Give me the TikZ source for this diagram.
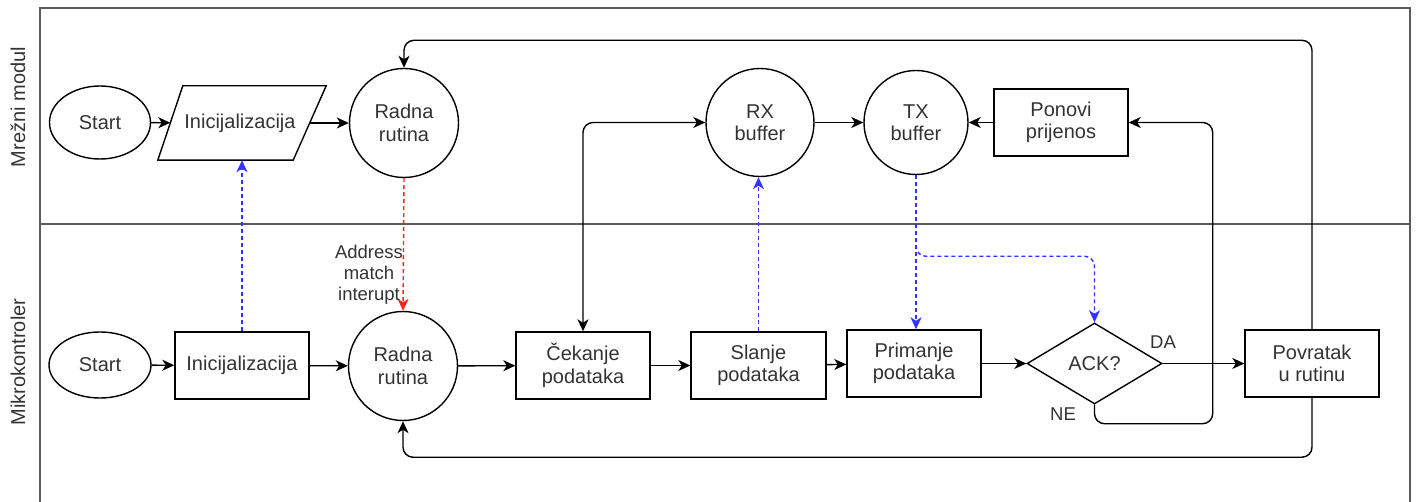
\documentclass[tikz,border=0pt]{standalone}
\usepackage{fontspec}
\setmainfont{Liberation Sans}
\usetikzlibrary{arrows.meta,shapes.geometric,calc}
\definecolor{txt}{HTML}{333333}
\definecolor{lanec}{HTML}{5A5A5A}
\definecolor{blu}{HTML}{3333FF}
\definecolor{rd}{HTML}{FF2020}
\begin{document}
\begin{tikzpicture}[x=1pt,y=-1pt,
  every node/.style={font=\fontsize{20}{22.5}\selectfont, text=txt, align=center},
  shp/.style={draw=black, line width=1.4pt, inner sep=0pt},
  box/.style={shp, rectangle, minimum width=134, minimum height=67},
  circ/.style={shp, circle, minimum size=109},
  arr/.style={-{Stealth[length=12pt,width=11pt,inset=3.5pt]}, line width=1.4pt, draw=black},
  darr/.style={{Stealth[length=12pt,width=11pt,inset=3.5pt]}-{Stealth[length=12pt,width=11pt,inset=3.5pt]}, line width=1.4pt, draw=black},
  rc/.style={rounded corners=10pt},
  bluarr/.style={arr, draw=blu, dash pattern=on 4pt off 3pt},
  redarr/.style={arr, draw=rd, dash pattern=on 4pt off 3pt},
  lane/.style={draw=lanec, line width=2pt},
  lbl/.style={font=\fontsize{18.5}{21}\selectfont}
]
\useasboundingbox (0,0) rectangle (1416,502);
% pool and lanes
\draw[lane] (40,502) -- (40,8) -- (1410,8) -- (1410,502);
\draw[lane] (40,224) -- (1410,224);
\node[rotate=90] (lane1) at (18,107) {Mrežni modul};
\node[rotate=90] (lane2) at (18,362) {Mikrokontroler};

% top lane
\node[shp, ellipse, minimum width=101, minimum height=73] (s1) at (100,122.5) {Start};
\node[inner sep=0pt, minimum width=139, minimum height=74] (ini1) at (240,123) {Inicijalizacija};
\draw[line width=1.4pt] ($(ini1.north west)+(12.5,0)$) -- ($(ini1.north east)+(16.5,0)$) -- ($(ini1.south east)+(-16.5,0)$) -- ($(ini1.south west)+(-12.5,0)$) -- cycle;
\node[circ] (r1) at (404,123) {Radna\\rutina};
\node[circ, minimum size=108] (rx) at (760,122.5) {RX\\buffer};
\node[circ, minimum size=104] (tx) at (916,122.5) {TX\\buffer};
\node[box] (pon) at (1061,122.5) {Ponovi\\prijenos};

% bottom lane
\node[shp, ellipse, minimum width=102, minimum height=66] (s2) at (100,365) {Start};
\node[box] (ini2) at (242,365.5) {Inicijalizacija};
\node[circ] (r2) at (403,366) {Radna\\rutina};
\node[box] (cek) at (583,365.5) {Čekanje\\podataka};
\node[box, minimum width=135] (sl) at (758.5,365.5) {Slanje\\podataka};
\node[box] (pri) at (914,363.5) {Primanje\\podataka};
\node[shp, diamond, aspect=1.67, minimum width=135, minimum height=81] (ack) at (1094.5,363.5) {ACK?};
\node[box] (pov) at (1312,363.5) {Povratak\\u rutinu};

% top connectors
\draw[arr] (s1) -- (ini1);
\draw[arr] (ini1) -- (r1);
\draw[arr] (rx) -- (tx);
\draw[arr] (pon) -- (tx);

% bottom connectors
\draw[arr] (s2) -- (ini2);
\draw[arr] (ini2) -- (r2);
\draw[arr] (r2) -- (cek);
\draw[arr] (cek) -- (sl);
\draw[arr] (sl) -- (pri);
\draw[arr] (pri) -- (ack);
\draw[arr] (ack) -- (pov);
\node[lbl] (da) at (1163,342) {DA};

% loops
\draw[arr, rc] (pov.north) |- ($(r1.north)+(0,-27.5)$) -- (r1.north);
\draw[arr, rc] (pov.south) |- ($(r2.south)+(0,36)$) -- (r2.south);
\draw[darr, rc] (cek.north) |- (rx.west);
\draw[arr, rc] (ack.south) -- ++(0,19) -| ($(pon.east)+(84,0)$) -- (pon.east);
\node[lbl] (ne) at (1063,414) {NE};

% dashed signals
\draw[bluarr] (ini2.north) -- (ini2.north |- ini1.south);
\draw[bluarr] (sl.north) -- (sl.north |- rx.south);
\draw[bluarr] (tx.south) -- (tx.south |- pri.north);
\draw[bluarr, rc] (tx.south) |- ($(ack.north)+(0,-66)$) -- (ack.north);
\draw[redarr] (r1.south) -- (r2.north);
\node[lbl] (am) at (369,275) {Address\\match\\interupt};
\end{tikzpicture}
\end{document}
